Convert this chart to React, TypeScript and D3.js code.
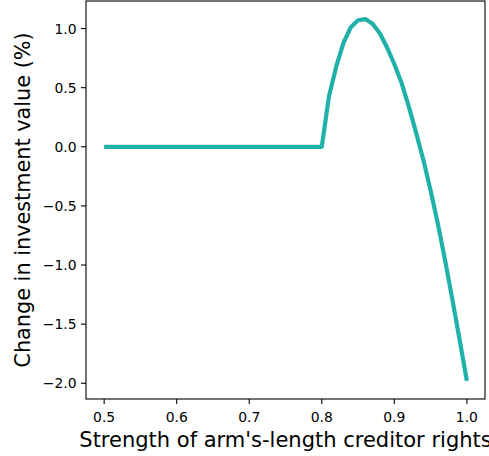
import React from "react";
import * as d3 from "d3";

const xValues = [0.5, 0.51, 0.52, 0.53, 0.54, 0.55, 0.56, 0.57, 0.58, 0.59, 0.6, 0.61, 0.62, 0.63, 0.64, 0.65, 0.66, 0.67, 0.68, 0.69, 0.7, 0.71, 0.72, 0.73, 0.74, 0.75, 0.76, 0.77, 0.78, 0.79, 0.8, 0.81, 0.82, 0.83, 0.84, 0.85, 0.86, 0.87, 0.88, 0.89, 0.9, 0.91, 0.92, 0.93, 0.94, 0.95, 0.96, 0.97, 0.98, 0.99, 1.0];
const yValues = [0, 0, 0, 0, 0, 0, 0, 0, 0, 0, 0, 0, 0, 0, 0, 0, 0, 0, 0, 0, 0, 0, 0, 0, 0, 0, 0, 0, 0, 0, 0, 0.43, 0.68, 0.88, 1.01, 1.07, 1.08, 1.04, 0.96, 0.84, 0.70, 0.54, 0.34, 0.12, -0.11, -0.37, -0.65, -0.96, -1.29, -1.63, -1.98];
const xTicks = [0.5, 0.6, 0.7, 0.8, 0.9, 1.0];
const yTicks = [-2.0, -1.5, -1.0, -0.5, 0.0, 0.5, 1.0];
const xLabel = "Strength of arm's-length creditor rights";
const yLabel = "Change in investment value (%)";

const W = 489, H = 456;
const L = 86, R = 485, T = 1, B = 399;

export default function App() {
  const xMin = 0.5, xMax = 1.0;
  const xPad = (xMax - xMin) * 0.05;
  const yMin = d3.min(yValues)!, yMax = d3.max(yValues)!;
  const yPad = (yMax - yMin) * 0.05;
  const x = d3.scaleLinear().domain([xMin - xPad, xMax + xPad]).range([L, R]);
  const y = d3.scaleLinear().domain([yMin - yPad, yMax + yPad]).range([B, T]);
  const pts: [number, number][] = xValues.map((v, i) => [v, yValues[i]]);
  const line = d3.line<[number, number]>().x(d => x(d[0])).y(d => y(d[1]));
  const font = "DejaVu Sans, sans-serif";
  const fmt = (v: number) => (v < 0 ? "\u2212" : "") + Math.abs(v).toFixed(1);
  return (
    <svg width={W} height={H} style={{ position: "absolute", left: 0, top: 0, background: "#fff" }} fontFamily={font}>
      <rect x={0} y={0} width={W} height={H} fill="#fff" />
      <path d={line(pts)!} fill="none" stroke="#20B2AA" strokeWidth={4.2} strokeLinejoin="round" strokeLinecap="butt" />
      <rect x={L} y={T} width={R - L} height={B - T} fill="none" stroke="#000" strokeWidth={1.1} />
      {xTicks.map(t => (
        <g key={"x" + t}>
          <line x1={x(t)} x2={x(t)} y1={B} y2={B + 5} stroke="#000" strokeWidth={1.1} />
          <text x={x(t)} y={B + 22.5} textAnchor="middle" fontSize={13.9} fill="#000">{t.toFixed(1)}</text>
        </g>
      ))}
      {yTicks.map(t => (
        <g key={"y" + t}>
          <line x1={L - 5} x2={L} y1={y(t)} y2={y(t)} stroke="#000" strokeWidth={1.1} />
          <text x={L - 9.5} y={y(t) + 5} textAnchor="end" fontSize={13.9} fill="#000">{fmt(t)}</text>
        </g>
      ))}
      <text x={(L + R) / 2} y={446.5} textAnchor="middle" fontSize={21} fill="#000">{xLabel}</text>
      <text transform={`translate(29.5,${(T + B) / 2}) rotate(-90)`} textAnchor="middle" fontSize={20.8} fill="#000">{yLabel}</text>
    </svg>
  );
}
